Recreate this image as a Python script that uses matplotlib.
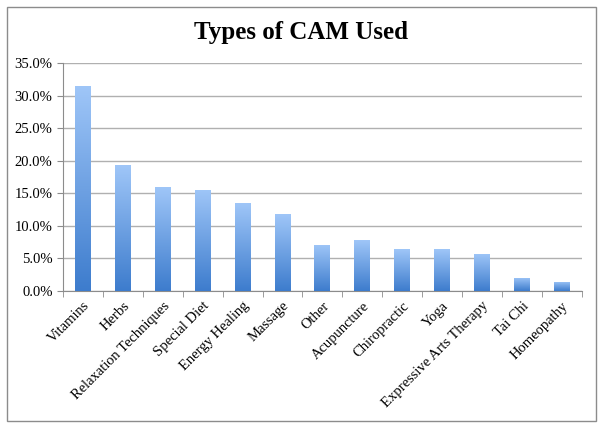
import numpy as np
import matplotlib
matplotlib.use("Agg")
import matplotlib.pyplot as plt
from matplotlib.colors import LinearSegmentedColormap
from matplotlib.patches import Rectangle
from matplotlib.ticker import FuncFormatter, MultipleLocator

categories = ["Vitamins", "Herbs", "Relaxation Techniques", "Special Diet",
              "Energy Healing", "Massage", "Other", "Acupuncture",
              "Chiropractic", "Yoga", "Expressive Arts Therapy", "Tai Chi",
              "Homeopathy"]
values = [31.4, 19.3, 15.9, 15.5, 13.5, 11.8, 7.1, 7.8, 6.4, 6.4, 5.7, 2.0, 1.4]

plt.rcParams['font.family'] = ['Liberation Serif', 'DejaVu Serif']

fig = plt.figure(figsize=(6.03, 4.28), dpi=100)
ax = fig.add_axes([0.1045, 0.32, 0.8605, 0.533])

# outer frame
fig.patches.append(Rectangle((0.012, 0.016), 0.977, 0.968, transform=fig.transFigure,
                             fill=False, edgecolor="#8c8c8c", linewidth=1.0))

x = np.arange(len(categories))
bars = ax.bar(x, values, width=0.4, color="none", edgecolor="none", zorder=3)

cmap = LinearSegmentedColormap.from_list("grad", ["#3d7ccd", "#9fc6f8"])
grad = np.linspace(0, 1, 256).reshape(-1, 1)
for b in bars:
    x0, w, h = b.get_x(), b.get_width(), b.get_height()
    im = ax.imshow(grad, cmap=cmap, origin="lower", aspect="auto",
                   extent=[x0, x0 + w, 0, h], zorder=3)
    im.set_clip_path(b)

ax.set_xlim(-0.5, len(categories) - 0.5)
ax.set_ylim(0, 35)
ax.yaxis.set_major_locator(MultipleLocator(5))
ax.yaxis.set_major_formatter(FuncFormatter(lambda v, p: f"{v:.1f}%"))
ax.yaxis.grid(True, color="#b0b0b0", linewidth=1.0, zorder=0)
ax.set_axisbelow(True)

ax.set_xticks(x)
ax.set_xticklabels(categories, rotation=45, ha="right", va="top",
                   rotation_mode="anchor", fontsize=10.5)
ax.set_xticks(np.arange(-0.5, len(categories)), minor=True)
ax.tick_params(axis="x", which="major", length=0, pad=6)
ax.tick_params(axis="x", which="minor", length=4, color="#8c8c8c")
ax.tick_params(axis="y", length=4, color="#8c8c8c", labelsize=10.5)

for s in ["top", "right"]:
    ax.spines[s].set_visible(False)
ax.spines["left"].set_color("#8c8c8c")
ax.spines["bottom"].set_color("#8c8c8c")

fig.text(0.5, 0.925, "Types of CAM Used", ha="center", va="center",
         fontsize=18, fontweight="bold")

fig.savefig("out.png", dpi=100)
